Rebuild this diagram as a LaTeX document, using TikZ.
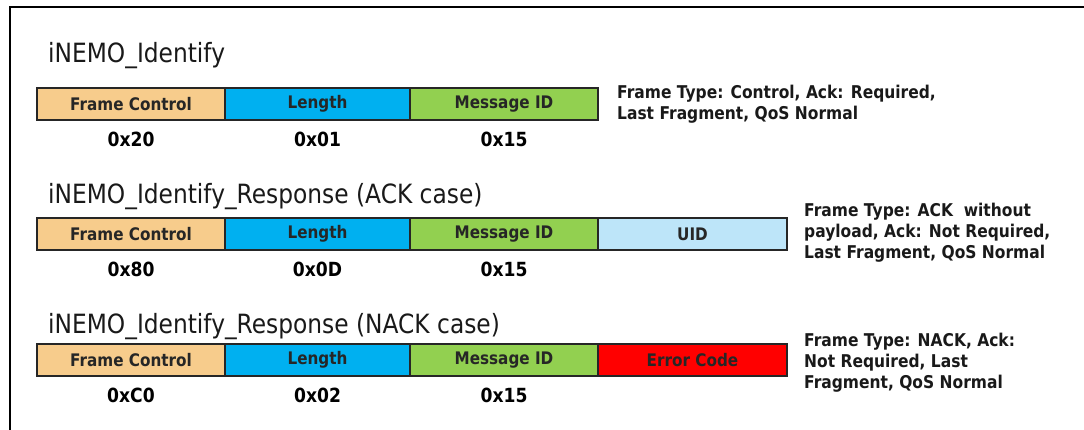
\documentclass[tikz,border=0pt]{standalone}
\usepackage{fontspec}
\setmainfont{DejaVu Sans}[FakeStretch=0.88]
\usetikzlibrary{positioning}
\definecolor{fcorange}{RGB}{247,204,140}
\definecolor{lencyan}{RGB}{0,176,240}
\definecolor{midgreen}{RGB}{146,208,80}
\definecolor{uidblue}{RGB}{189,229,249}
\definecolor{errred}{RGB}{255,0,0}

\begin{document}
\begin{tikzpicture}[x=1pt, y=-1pt,
  field/.style={draw=black!85, line width=1.3pt, minimum height=32pt, inner sep=0pt, outer sep=0pt,
    font=\fontsize{17.3}{20}\selectfont\bfseries, text=black!85},
  msgtitle/.style={anchor=base west, inner sep=0pt, font=\fontsize{26.5}{30}\selectfont, text=black!90},
  hexval/.style={below=12pt of #1, inner sep=0pt, font=\fontsize{19.5}{22}\selectfont\bfseries},
  note/.style={align=left, inner sep=0pt, font=\fontsize{17.6}{21}\selectfont\bfseries, text=black!90}]

\useasboundingbox (0,0) rectangle (1084,430);
\draw[line width=2.5pt] (10,430) -- (10,7) -- (1084,7);

% iNEMO_Identify
\node[msgtitle] (t1) at (48,63) {iNEMO\_Identify};
\node[field, fill=fcorange, minimum width=188, anchor=north west] (fc1) at (37,88) {Frame Control};
\node[field, fill=lencyan, minimum width=185, right=0pt of fc1] (len1) {Length};
\node[field, fill=midgreen, minimum width=188, right=0pt of len1] (mid1) {Message ID};
\node[hexval=fc1] (hx11) {0x20};
\node[hexval=len1] (hx12) {0x01};
\node[hexval=mid1] (hx13) {0x15};
\node[note, right=19pt of mid1] (n1) {Frame Type: Control, Ack: Required,\\Last Fragment, QoS Normal};

% ACK case
\node[msgtitle] (t2) at (48,204) {iNEMO\_Identify\_Response (ACK case)};
\node[field, fill=fcorange, minimum width=188, anchor=north west] (fc2) at (37,218) {Frame Control};
\node[field, fill=lencyan, minimum width=185, right=0pt of fc2] (len2) {Length};
\node[field, fill=midgreen, minimum width=188, right=0pt of len2] (mid2) {Message ID};
\node[field, fill=uidblue, minimum width=189, right=0pt of mid2] (uid2) {UID};
\node[hexval=fc2] (hx21) {0x80};
\node[hexval=len2] (hx22) {0x0D};
\node[hexval=mid2] (hx23) {0x15};
\node[note, right=17pt of uid2, yshift=1pt] (n2) {Frame Type: ACK\ \ without\\payload, Ack: Not Required,\\Last Fragment, QoS Normal};

% NACK case
\node[msgtitle] (t3) at (48,334) {iNEMO\_Identify\_Response (NACK case)};
\node[field, fill=fcorange, minimum width=188, anchor=north west] (fc3) at (37,344) {Frame Control};
\node[field, fill=lencyan, minimum width=185, right=0pt of fc3] (len3) {Length};
\node[field, fill=midgreen, minimum width=188, right=0pt of len3] (mid3) {Message ID};
\node[field, fill=errred, minimum width=189, right=0pt of mid3] (err3) {Error Code};
\node[hexval=fc3] (hx31) {0xC0};
\node[hexval=len3] (hx32) {0x02};
\node[hexval=mid3] (hx33) {0x15};
\node[note, right=17pt of err3, yshift=-3pt] (n3) {Frame Type: NACK, Ack:\\Not Required, Last\\Fragment, QoS Normal};

\end{tikzpicture}
\end{document}
